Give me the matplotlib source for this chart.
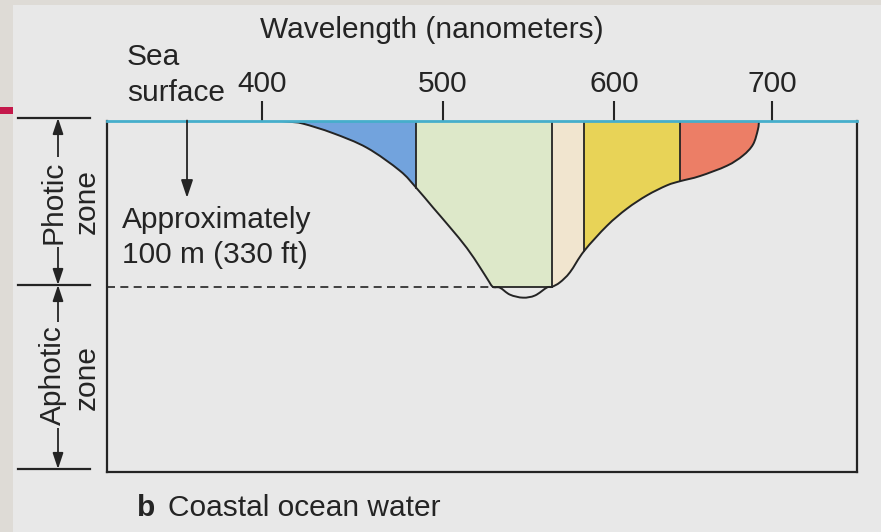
import numpy as np
import matplotlib
matplotlib.use("Agg")
import matplotlib.pyplot as plt
from matplotlib.patches import Rectangle, PathPatch
from matplotlib.path import Path

W, H, DPI = 881, 532, 100

# Wavelength ticks and where they sit along the drawn spectrum bar (pixels)
tick_nm = [400, 500, 600, 700]
tick_px = [262, 443, 614, 772]
x_range = (314.4, 753.8)

# Light penetration curve: wavelength (nm) vs. depth reached (m)
curve_nm = [407.2, 415.5, 422.7, 439.2, 458.0, 476.2, 485.1,
            494.5, 504.1, 514.0, 521.6, 526.3, 529.2,
            533.3, 539.2, 546.8, 553.8, 560.8, 563.7,
            568.4, 574.3, 582.5,
            595.9, 608.2, 620.9, 633.5, 641.8,
            654.4, 671.5, 681.6, 688.0, 691.1, 691.8]
curve_depth = [0.0, 0.8, 1.9, 7.6, 16.4, 30.2, 40.3,
               52.3, 64.2, 76.7, 88.2, 95.8, 100.0,
               100.5, 104.7, 106.5, 105.2, 100.4, 100.0,
               97.3, 91.2, 78.5,
               63.3, 53.0, 45.0, 39.0, 36.5,
               33.4, 27.2, 21.1, 14.4, 5.4, 0.0]

# Colour bands of the spectrum reaching depth
band_edges = [407.2, 485.1, 563.7, 582.5, 641.8, 691.8]
band_colors = ["#72a3dd", "#dde8c9", "#f1e5cf", "#e8d357", "#ec7e66"]

photic_depth = 100
max_depth = 211

BG = "#e8e8e8"
INK = "#242424"
FONT = ["Liberation Sans", "DejaVu Sans"]
FS = 21.5

plt.rcParams["font.family"] = FONT

fig = plt.figure(figsize=(W / DPI, H / DPI), dpi=DPI, facecolor="#dedbd6")

# page panel and edge marker
fig.add_artist(Rectangle((13 / W, 0), 1 - 13 / W, 1 - 5 / H, transform=fig.transFigure,
                         facecolor=BG, edgecolor="none", zorder=0))
fig.add_artist(Rectangle((0, 1 - 114 / H), 13 / W, 7 / H, transform=fig.transFigure,
                         facecolor="#c4184a", edgecolor="none", zorder=0))

top_px, bot_px, left_px, right_px = 120.5, 471.5, 107, 857
ax = fig.add_axes([left_px / W, 1 - bot_px / H, (right_px - left_px) / W,
                   (bot_px - top_px) / H])
ax.set_facecolor("none")

knots_nm = [0, 400, 500, 600, 700, 1000]
knots_px = [262 - 400 * 1.81, 262, 443, 614, 772, 772 + 300 * 1.58]


def fwd(v):
    return np.interp(np.asarray(v, dtype=float), knots_nm, knots_px)


def inv(p):
    return np.interp(np.asarray(p, dtype=float), knots_px, knots_nm)


ax.set_xscale("function", functions=(fwd, inv))
ax.set_xlim(*x_range)
ax.set_ylim(max_depth, 0)

cx = np.array(curve_nm)
cd = np.array(curve_depth)


def smooth_path(xs, ys, close_along_surface=False):
    """Cubic Bezier path through the points; tangents taken on the scaled axis."""
    pts = np.column_stack([fwd(xs), ys])
    ext = np.vstack([pts[0], pts, pts[-1]])
    verts = [pts[0]]
    codes = [Path.MOVETO]
    for i in range(len(pts) - 1):
        p0, p1, p2, p3 = ext[i], ext[i + 1], ext[i + 2], ext[i + 3]
        c1 = p1 + (p2 - p0) / 6.0
        c2 = p2 - (p3 - p1) / 6.0
        verts += [c1, c2, p2]
        codes += [Path.CURVE4] * 3
    if close_along_surface:
        verts += [pts[0], pts[0]]
        codes += [Path.LINETO, Path.CLOSEPOLY]
    verts = np.array(verts)
    verts[:, 0] = inv(verts[:, 0])
    return Path(verts, codes)


region = smooth_path(cx, cd, close_along_surface=True)
for lo, hi, col in zip(band_edges[:-1], band_edges[1:], band_colors):
    patch = PathPatch(region, facecolor=col, edgecolor="none", zorder=1.5,
                      transform=ax.transData)
    ax.add_patch(patch)
    clip = Rectangle((lo, 0), hi - lo, photic_depth, transform=ax.transData)
    patch.set_clip_path(clip)

# band separators
for e in band_edges[1:-1]:
    ax.plot([e, e], [0, min(np.interp(e, cx, cd), photic_depth)], color=INK, lw=1.3, zorder=3)

# curve outline and flat cut at the photic limit
ax.add_patch(PathPatch(smooth_path(cx, cd), facecolor="none", edgecolor=INK, lw=1.4,
                       zorder=3, transform=ax.transData))
flat = cx[(cd >= photic_depth - 1e-6)]
ax.plot([flat.min(), flat.max()], [photic_depth, photic_depth], color=INK, lw=1.3, zorder=3)

# dashed photic boundary
ax.plot([x_range[0], flat.min()], [photic_depth, photic_depth], color=INK, lw=1.2,
        ls=(0, (4.8, 3.2)), zorder=3)

# arrow from the surface
ax.annotate("", xy=(358.6, 46.5), xytext=(358.6, 0),
            arrowprops=dict(arrowstyle="-|>,head_length=0.6,head_width=0.2",
                            color=INK, lw=1.3, mutation_scale=18,
                            shrinkA=0, shrinkB=0), zorder=4)

for side in ("left", "right", "bottom"):
    ax.spines[side].set_color(INK)
    ax.spines[side].set_linewidth(1.6)
ax.spines["top"].set_color("#46aecb")
ax.spines["top"].set_linewidth(2.0)
ax.spines["top"].set_zorder(3.5)

ax.set_yticks([])
ax.set_xticks(tick_nm)
ax.set_xticklabels([str(t) for t in tick_nm])
ax.xaxis.set_minor_locator(matplotlib.ticker.NullLocator())
ax.tick_params(axis="x", which="major", top=True, labeltop=True, bottom=False,
               labelbottom=False, direction="out", length=14.4, width=1.5,
               color=INK, pad=2, labelsize=FS, labelcolor=INK)

# overlay in page pixels for the annotations around the panel
ov = fig.add_axes([0, 0, 1, 1])
ov.set_xlim(0, W)
ov.set_ylim(H, 0)
ov.axis("off")
ov.patch.set_visible(False)

txt = dict(color=INK, fontsize=FS, va="baseline", ha="left")
ov.text(260, 38, "Wavelength (nanometers)", **txt)
ov.text(127, 65, "Sea", **txt)
ov.text(127, 101, "surface", **txt)
ov.text(122, 228, "Approximately", **txt)
ov.text(122, 263, "100 m (330 ft)", **txt)
ov.text(137, 516, "b", fontweight="bold", **txt)
ov.text(168, 516, "Coastal ocean water", **txt)

# zone brackets
for yy in (118, 285, 469):
    ov.plot([18, 90], [yy, yy], color=INK, lw=1.6)
arrow = dict(arrowstyle="<|-|>,head_length=0.6,head_width=0.2", color=INK, lw=1.3,
             mutation_scale=16, shrinkA=0, shrinkB=0)
ov.annotate("", xy=(58, 118), xytext=(58, 285), arrowprops=arrow)
ov.annotate("", xy=(58, 285), xytext=(58, 469), arrowprops=arrow)
zb = dict(boxstyle="square,pad=0.12", facecolor=BG, edgecolor="none")
ov.text(53, 202, "Photic", rotation=90, ha="center", va="center", color=INK,
        fontsize=FS, bbox=zb)
ov.text(87, 202, "zone", rotation=90, ha="center", va="center", color=INK, fontsize=FS)
ov.text(53, 375, "Aphotic", rotation=90, ha="center", va="center", color=INK,
        fontsize=FS, bbox=zb)
ov.text(87, 378, "zone", rotation=90, ha="center", va="center", color=INK, fontsize=FS)

fig.savefig("out.png", dpi=DPI, facecolor=fig.get_facecolor())
